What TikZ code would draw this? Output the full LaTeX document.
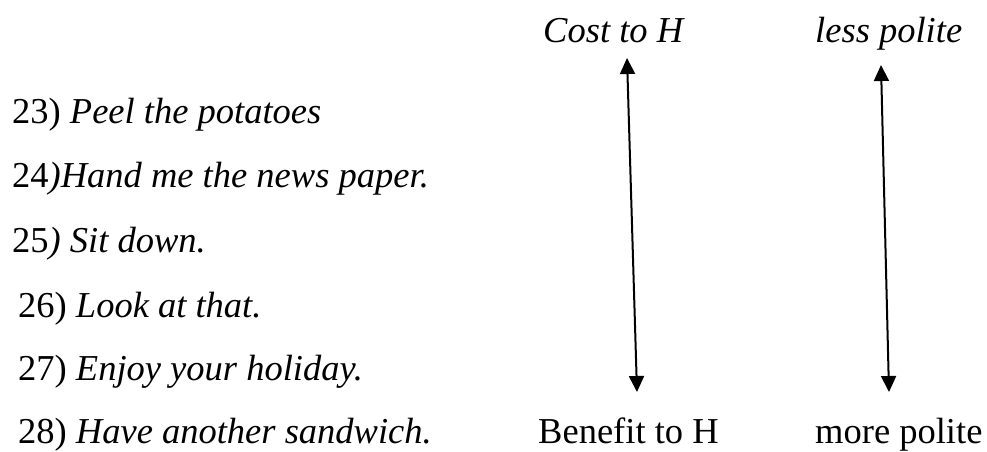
\documentclass[tikz,border=0pt]{standalone}
\usepackage{fontspec}
\setmainfont{Liberation Serif}
\usetikzlibrary{arrows.meta}
\begin{document}
\begin{tikzpicture}[x=1pt,y=-1pt,
  txt/.style={anchor=base west,inner sep=0pt,font=\fontsize{36.5}{40}\selectfont},
  arr/.style={line width=2pt,{Triangle[length=16pt,width=15pt]}-{Triangle[length=16pt,width=15pt]}}]
\useasboundingbox (0,0) rectangle (987,451);
\node[txt] (l23) at (12,123) {23) \textit{Peel the potatoes}};
\node[txt] (l24) at (12,187) {24\textit{)Hand me the news paper.}};
\node[txt] (l25) at (12,252) {25\textit{) Sit down.}};
\node[txt] (l26) at (18,317) {26) \textit{Look at that.}};
\node[txt] (l27) at (18,380) {27) \textit{Enjoy your holiday.}};
\node[txt] (l28) at (18,443) {28) \textit{Have another sandwich.}};
\node[txt] (cost) at (543,42) {\textit{Cost to H}};
\node[txt] (less) at (815,42) {\textit{less polite}};
\node[txt] (ben) at (538,443) {Benefit to H};
\node[txt] (more) at (815,443) {more polite};
\coordinate (a1t) at (627,58);
\coordinate (a1b) at (637,392);
\coordinate (a2t) at (881,65);
\coordinate (a2b) at (889,392);
\draw[arr] (a1b) -- (a1t);
\draw[arr] (a2b) -- (a2t);
\end{tikzpicture}
\end{document}
